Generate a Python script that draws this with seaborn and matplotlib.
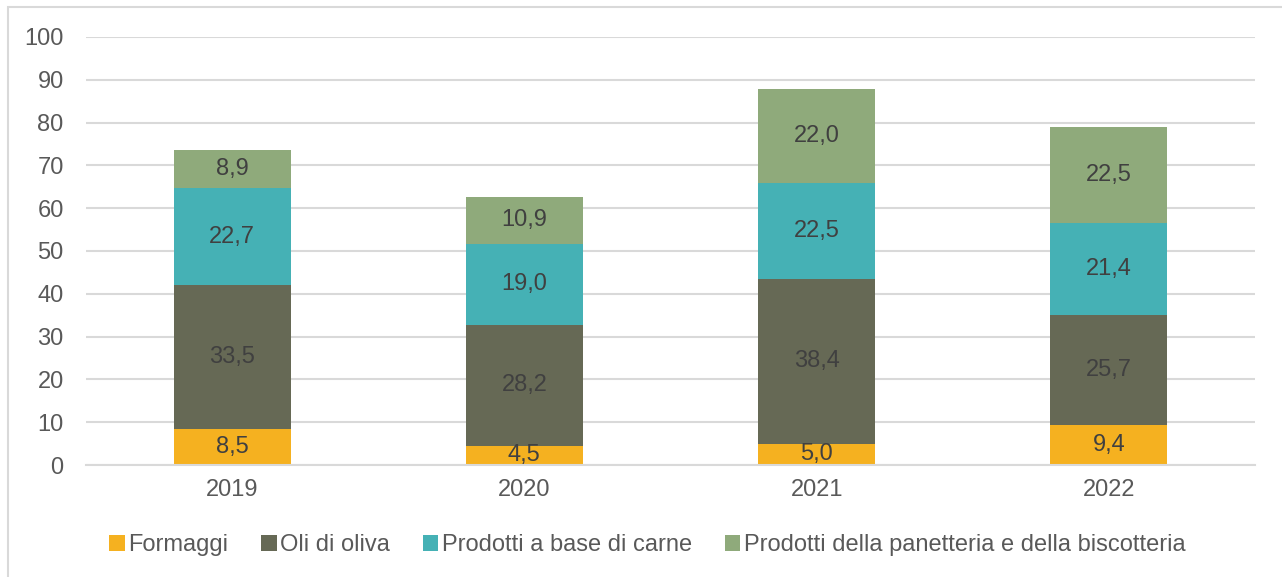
import numpy as np
import pandas as pd
import matplotlib
matplotlib.use("Agg")
import matplotlib.pyplot as plt
from matplotlib.patches import Rectangle, Patch
import seaborn as sns

# Data
years = ["2019", "2020", "2021", "2022"]
formaggi = [8.5, 4.5, 5.0, 9.4]
oli_oliva = [33.5, 28.2, 38.4, 25.7]
carne = [22.7, 19.0, 22.5, 21.4]
panetteria = [8.9, 10.9, 22.0, 22.5]

series_names = ["Formaggi", "Oli di oliva", "Prodotti a base di carne",
                "Prodotti della panetteria e della biscotteria"]
colors = ["#F5B120", "#666955", "#45B1B5", "#8FAA7B"]
text_color = "#595959"

sns.set_theme(style="white")
plt.rcParams['font.family'] = ['Liberation Sans', 'DejaVu Sans']

series = [formaggi, oli_oliva, carne, panetteria]
cum = np.cumsum(np.array(series), axis=0)

fig = plt.figure(figsize=(12.82, 5.77), dpi=100)
ax = fig.add_axes([0.067, 0.194, 0.912, 0.742])

# draw stacked bars from the top down so lower segments sit in front
for i in range(len(series) - 1, -1, -1):
    df = pd.DataFrame({"year": years, "value": cum[i]})
    sns.barplot(data=df, x="year", y="value", color=colors[i], width=0.4,
                saturation=1, linewidth=0, ax=ax, zorder=2)

# value labels in the middle of each segment
for i, vals in enumerate(series):
    bottoms = cum[i] - np.array(vals)
    for j, v in enumerate(vals):
        ax.text(j, bottoms[j] + v / 2, f"{v:.1f}".replace(".", ","),
                ha="center", va="center", fontsize=17, color="#404040", zorder=3)

ax.set_ylim(0, 100)
ax.set_yticks(range(0, 101, 10))
ax.set_xlim(-0.5, 3.5)
ax.yaxis.grid(True, color="#D9D9D9", linewidth=1.5, zorder=0)
ax.set_axisbelow(True)
for s in ["top", "right", "left"]:
    ax.spines[s].set_visible(False)
ax.spines["bottom"].set_color("#D9D9D9")
ax.spines["bottom"].set_linewidth(1.5)
ax.set_xlabel("")
ax.set_ylabel("")
ax.tick_params(axis="both", length=0, labelsize=17, labelcolor=text_color)
ax.tick_params(axis="y", pad=16)
ax.tick_params(axis="x", pad=10)

handles = [Patch(facecolor=c, edgecolor="none") for c in colors]
fig.legend(handles, series_names, loc="center", bbox_to_anchor=(0.505, 0.055),
           ncol=4, frameon=False, fontsize=17, labelcolor=text_color,
           handlelength=0.65, handleheight=0.65, handletextpad=0.15, columnspacing=1.4)

fig.patches.append(Rectangle((0.006, -0.02), 1.1, 1.008, transform=fig.transFigure,
                             fill=False, edgecolor="#D9D9D9", linewidth=1.5))

fig.savefig("out.png", dpi=100)
